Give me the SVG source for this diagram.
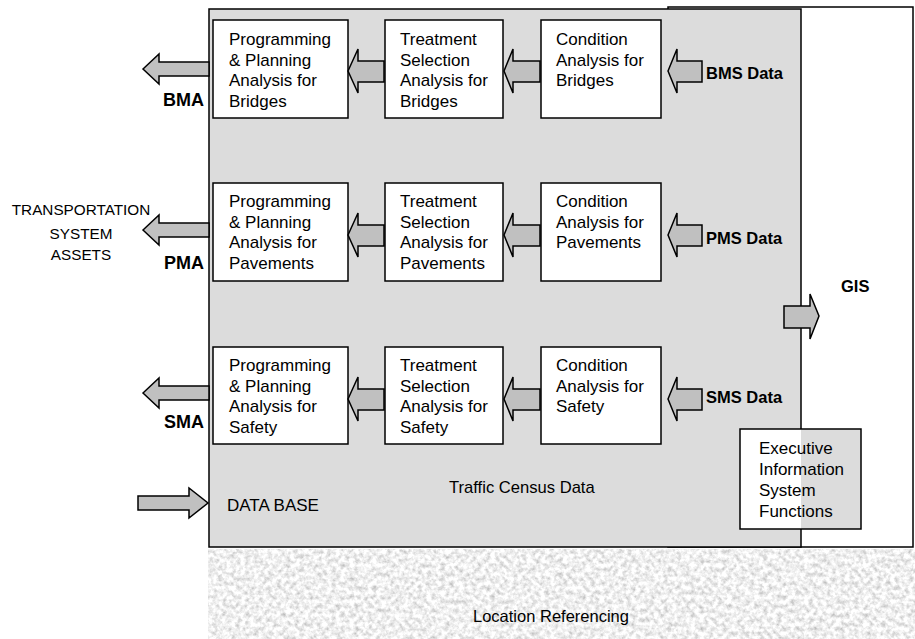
<svg xmlns="http://www.w3.org/2000/svg" width="915" height="639" viewBox="0 0 915 639">
<defs>
<filter id="tex" x="0" y="0" width="100%" height="100%" filterUnits="objectBoundingBox">
<feTurbulence type="fractalNoise" baseFrequency="0.22" numOctaves="3" seed="7"/>
<feColorMatrix type="matrix" values="0.9 0 0 0 0.42  0.9 0 0 0 0.42  0.9 0 0 0 0.42  0 0 0 0 1"/>
</filter>
<style>
.t{font-family:"Liberation Sans",Arial,sans-serif;font-size:17px;fill:#000}
.b{font-family:"Liberation Sans",Arial,sans-serif;font-size:16.5px;font-weight:bold;fill:#000}
.box{fill:#fff;stroke:#000;stroke-width:1.5}
.arr{fill:#c0c0c0;stroke:#000;stroke-width:1.5;stroke-linejoin:miter}
</style>
</defs>
<rect x="208" y="549" width="707" height="90" fill="#dedede" filter="url(#tex)"/>
<g id="location"><text class="t" x="473" y="622" style="font-size:16.5px">Location Referencing</text></g>
<g id="gis"><rect x="668" y="7" width="245" height="540" fill="#fff" stroke="#000" stroke-width="1.5"/>
<text class="b" x="841" y="292">GIS</text></g>
<g id="panel"><rect x="209" y="9" width="592" height="538" fill="#dcdcdc" stroke="#000" stroke-width="1.5"/>
<text class="t" x="449" y="493" style="font-size:16.6px">Traffic Census Data</text>
<text class="t" x="227" y="511">DATA BASE</text></g>

<g id="exec">
<rect x="740" y="429" width="61" height="100" fill="#ffffff"/>
<rect x="801" y="429" width="60" height="100" fill="#dcdcdc"/>
<rect x="740" y="429" width="121" height="100" fill="none" stroke="#000" stroke-width="1.5"/>
<text class="t" x="759" y="454">Executive</text>
<text class="t" x="759" y="475">Information</text>
<text class="t" x="759" y="496">System</text>
<text class="t" x="759" y="517">Functions</text>
</g>

<g id="prog-bridges"><rect class="box" x="213" y="20" width="135" height="98"/>
<text class="t" x="229" y="45">Programming<tspan x="229" dy="20.7">&amp; Planning</tspan><tspan x="229" dy="20.7">Analysis for</tspan><tspan x="229" dy="20.7">Bridges</tspan></text></g>
<g id="treat-bridges"><rect class="box" x="385" y="20" width="118" height="98"/>
<text class="t" x="400" y="45">Treatment<tspan x="400" dy="20.7">Selection</tspan><tspan x="400" dy="20.7">Analysis for</tspan><tspan x="400" dy="20.7">Bridges</tspan></text></g>
<g id="cond-bridges"><rect class="box" x="541" y="20" width="120" height="98"/>
<text class="t" x="556" y="45">Condition<tspan x="556" dy="20.7">Analysis for</tspan><tspan x="556" dy="20.7">Bridges</tspan></text></g>

<g id="prog-pavements"><rect class="box" x="213" y="183" width="135" height="98"/>
<text class="t" x="229" y="207">Programming<tspan x="229" dy="20.7">&amp; Planning</tspan><tspan x="229" dy="20.7">Analysis for</tspan><tspan x="229" dy="20.7">Pavements</tspan></text></g>
<g id="treat-pavements"><rect class="box" x="385" y="183" width="118" height="98"/>
<text class="t" x="400" y="207">Treatment<tspan x="400" dy="20.7">Selection</tspan><tspan x="400" dy="20.7">Analysis for</tspan><tspan x="400" dy="20.7">Pavements</tspan></text></g>
<g id="cond-pavements"><rect class="box" x="541" y="183" width="120" height="98"/>
<text class="t" x="556" y="207">Condition<tspan x="556" dy="20.7">Analysis for</tspan><tspan x="556" dy="20.7">Pavements</tspan></text></g>

<g id="prog-safety"><rect class="box" x="213" y="347" width="135" height="97"/>
<text class="t" x="229" y="371">Programming<tspan x="229" dy="20.7">&amp; Planning</tspan><tspan x="229" dy="20.7">Analysis for</tspan><tspan x="229" dy="20.7">Safety</tspan></text></g>
<g id="treat-safety"><rect class="box" x="385" y="347" width="118" height="97"/>
<text class="t" x="400" y="371">Treatment<tspan x="400" dy="20.7">Selection</tspan><tspan x="400" dy="20.7">Analysis for</tspan><tspan x="400" dy="20.7">Safety</tspan></text></g>
<g id="cond-safety"><rect class="box" x="541" y="347" width="120" height="97"/>
<text class="t" x="556" y="371">Condition<tspan x="556" dy="20.7">Analysis for</tspan><tspan x="556" dy="20.7">Safety</tspan></text></g>

<g id="labels">
<text class="b" x="204" y="106" text-anchor="end" style="font-size:18px">BMA</text>
<text class="b" x="204" y="269" text-anchor="end" style="font-size:18px">PMA</text>
<text class="b" x="204" y="428" text-anchor="end" style="font-size:18px">SMA</text>
<text class="b" x="706" y="79">BMS Data</text>
<text class="b" x="706" y="244">PMS Data</text>
<text class="b" x="706" y="403">SMS Data</text>
<text class="t" x="81" y="215" text-anchor="middle" style="font-size:15.3px">TRANSPORTATION</text>
<text class="t" x="81" y="239" text-anchor="middle" style="font-size:15.3px">SYSTEM</text>
<text class="t" x="81" y="260" text-anchor="middle" style="font-size:15.3px">ASSETS</text>
</g>

<g id="connectors">
<polygon class="arr" points="143,69 159,54 159,62 209,62 209,76 159,76 159,84"/>
<polygon class="arr" points="143,230 159,215 159,223 209,223 209,237 159,237 159,245"/>
<polygon class="arr" points="143,393 159,378 159,386 209,386 209,400 159,400 159,408"/>

<polygon class="arr" points="348,71 358,49 358,61 384,61 384,82 358,82 358,93"/>
<polygon class="arr" points="504,71 513,49 513,61 540,61 540,82 513,82 513,93"/>
<polygon class="arr" points="668,71 677,49 677,61 702,61 702,82 677,82 677,93"/>

<polygon class="arr" points="348,235 358,213 358,225 384,225 384,246 358,246 358,257"/>
<polygon class="arr" points="504,235 513,213 513,225 540,225 540,246 513,246 513,257"/>
<polygon class="arr" points="668,235 677,213 677,225 702,225 702,246 677,246 677,257"/>

<polygon class="arr" points="348,399 358,377 358,389 384,389 384,410 358,410 358,421"/>
<polygon class="arr" points="504,399 513,377 513,389 540,389 540,410 513,410 513,421"/>
<polygon class="arr" points="668,399 677,377 677,389 702,389 702,410 677,410 677,421"/>

<polygon class="arr" points="784,306 810,306 810,294 819,316 810,339 810,328 784,328"/>
<polygon class="arr" points="138,496 189,496 189,488 208,503 189,518 189,510 138,510"/>
</g>
</svg>
